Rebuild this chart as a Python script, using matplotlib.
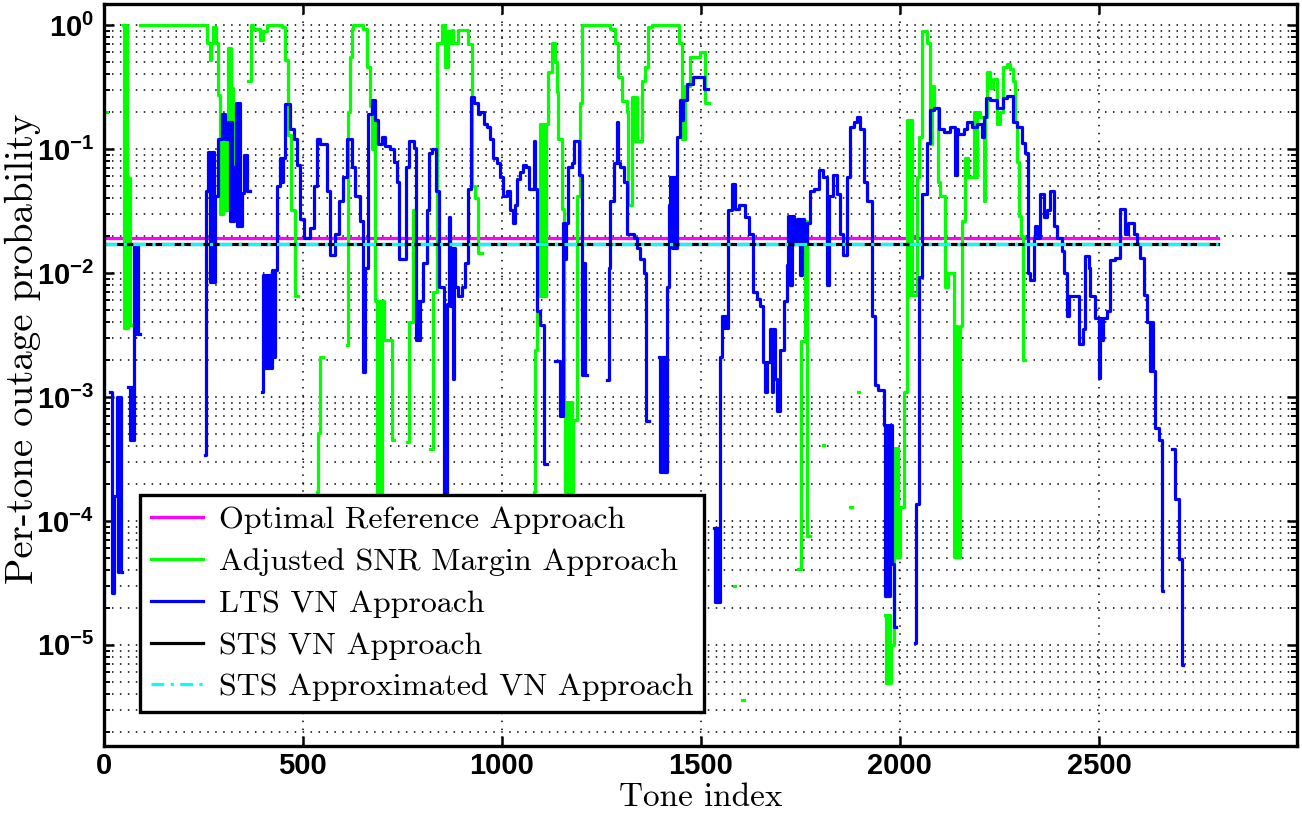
import numpy as np
import matplotlib.pyplot as plt
from matplotlib.ticker import LogLocator, NullLocator

plt.rcParams['mathtext.fontset'] = 'custom'
plt.rcParams['mathtext.rm'] = 'Liberation Sans:bold'
plt.rcParams['mathtext.bf'] = 'Liberation Sans:bold'
plt.rcParams['axes.unicode_minus'] = False

nan = np.nan

# flat per-tone outage levels of the reference schemes
ref_tones = [1, 2800]
opt_level = 0.0193
sts_level = 0.0171
sts_approx_level = 0.0171

# adjusted SNR margin approach (nan = no outage, gap in the curve)
adj_tone = [3, 9, 49, 52, 55, 58, 62, 66, 70,
            91, 259, 267, 270, 274, 281, 287, 291, 294, 297, 300, 305, 311, 314, 317,
            320, 325, 328, 331, 335,
            363, 369, 376, 393, 401, 409, 447, 456, 464, 470, 481, 489,
            535, 539, 543, 550,
            610, 614, 619, 623, 627, 652, 661, 669, 673, 677, 682, 686, 690, 694, 698,
            703, 723, 728,
            761, 767, 778, 782,
            820, 828, 836, 849, 857, 864, 870, 874, 878, 891, 916, 924, 933, 941, 950,
            1080, 1084, 1088, 1096, 1100, 1104, 1108, 1112, 1117, 1125, 1134, 1138, 1142,
            1150, 1155, 1159, 1163, 1167, 1171, 1175, 1180, 1188, 1197, 1201, 1272, 1285,
            1293, 1301, 1314, 1318, 1327, 1331, 1335, 1339, 1352, 1360, 1368, 1377, 1444,
            1452, 1460, 1473, 1498, 1511, 1520,
            1582, 1586, 1603, 1609,
            1745, 1752, 1761, 1767, 1775,
            1806, 1810, 1875, 1879, 1894, 1898,
            1963, 1966, 1970, 1974, 1978, 1984, 1988, 1992, 1996, 2001, 2011, 2018, 2022,
            2026, 2030, 2043, 2047, 2055, 2068, 2076, 2080, 2085, 2095, 2101, 2114, 2122,
            2135, 2139, 2143, 2150, 2156, 2164, 2172, 2185, 2189, 2193, 2202, 2210, 2214,
            2219, 2227, 2235, 2244, 2252, 2260, 2269, 2277, 2285, 2290, 2294, 2298, 2304,
            2309, 2315]
adj_prob = [0.2, nan, 1.0, 3.6e-3, 1.0, 3.6e-3, 5.8e-2, 3.8e-3, nan,
            1.0, 0.71, 0.52, 0.71, 0.97, 0.71, 0.27, 3.0e-2, 0.12, 3.0e-2, 0.12, 3.2e-2, 0.65, 3.2e-2, 0.65,
            0.31, 3.2e-2, 6.5e-2, 3.2e-2, nan,
            0.35, 1.0, 0.93, 0.75, 0.89, 1.0, 0.97, 0.52, 0.13, 3.2e-2, 6.5e-3, nan,
            1.7e-4, 5.1e-4, 2.1e-3, nan,
            2.6e-3, 0.2, 0.55, 0.93, 1.0, 0.93, 0.46, 0.22, 0.1, 0.22, 5.9e-3, 1.6e-4, 5.9e-3, 1.6e-4, 5.9e-3,
            2.9e-3, 4.5e-4, nan,
            4.3e-4, 4.0e-3, 3.2e-2, nan,
            3.8e-4, 7.0e-3, 0.72, 1.0, 0.46, 0.89, 0.72, 0.91, 0.72, 0.91, 0.70, 5.0e-2, 4.0e-2, 1.45e-2, nan,
            1.7e-4, 2.4e-3, 6.5e-3, 0.16, 6.5e-3, 0.16, 6.5e-3, 0.16, 0.42, 0.71, 0.5, 0.29, 0.12,
            3.3e-2, 9.1e-4, 1.7e-4, 9.1e-4, 1.7e-4, 9.1e-4, 1.7e-4, 6.5e-4, 4.2e-2, 0.235, 1.0, 0.93, 0.71,
            0.38, 0.245, 0.2, 3.5e-2, 0.26, 0.115, 0.26, 0.115, 0.35, 0.46, 0.97, 1.0, 0.71,
            0.12, 0.32, 0.55, 0.6, 0.235, nan,
            3.0e-5, nan, 3.6e-6, nan,
            4.1e-5, 2.8e-3, 2.6e-2, 7.6e-5, nan,
            4.1e-4, nan, 1.3e-4, nan, 1.1e-3, nan,
            1.75e-5, 4.9e-6, 1.75e-5, 4.9e-6, 1.0e-5, 3.9e-4, 5.1e-5, 3.9e-4, 5.1e-5, 1.3e-4, 1.1e-3, 0.17, 6.7e-3,
            0.17, 6.7e-3, 5.9e-2, 0.126, 0.89, 0.71, 0.11, 0.32, 0.215, 5.4e-2, 4.2e-2, 7.7e-3, 1.0e-2,
            5.1e-5, 3.7e-3, 5.1e-5, 3.7e-3, 2.6e-2, 8.5e-2, 5.9e-2, 0.2, 5.9e-2, 0.2, 0.18, 3.8e-2, 0.18,
            0.42, 0.31, 0.37, 0.16, 0.2, 0.46, 0.48, 0.44, 0.35, 0.165, 7.8e-2, 2.9e-2, 2.0e-2,
            2.0e-3, nan]

# long-term-stationary VN approach
lts_tone = [16, 21, 25, 33, 37, 40, 44, 47,
            62, 65, 68, 71, 76, 80, 84, 87, 90,
            254, 257, 263, 268, 272, 277, 280, 288, 296, 305, 313, 316, 320, 323, 326,
            331, 335, 339, 343, 347, 353, 359, 368,
            397, 399, 403, 407, 411, 415, 419, 423, 427, 431, 435, 443, 447, 451, 455,
            468, 477, 485, 493, 502, 518, 527, 535, 544, 560, 569, 581, 590, 602, 610,
            623, 631, 644, 650, 656, 665, 673, 682, 690, 698, 707, 720, 728, 737, 742,
            760, 767, 780, 785, 789, 793, 795, 803, 811, 818, 824, 835, 843, 855, 862,
            868, 871, 874, 877, 880, 883, 891, 899, 908, 916, 922, 930, 939, 945, 954,
            962, 971, 979, 987, 996, 1004, 1012, 1021, 1028, 1033, 1039, 1046, 1054, 1061,
            1067, 1080, 1084, 1088, 1096, 1105, 1113,
            1134, 1146, 1154, 1158, 1162, 1167, 1176, 1182, 1193, 1201, 1205, 1209, 1213,
            1264, 1268, 1272, 1281, 1289, 1293, 1297, 1306, 1314, 1331, 1339, 1347, 1356,
            1363, 1369,
            1394, 1397, 1400, 1404, 1407, 1410, 1414, 1419, 1423, 1427, 1431, 1435, 1440,
            1448, 1452, 1456, 1465, 1481, 1507, 1519,
            1533, 1536, 1540, 1544, 1547, 1553, 1557, 1561, 1566, 1569, 1578, 1586, 1595,
            1611, 1620, 1632, 1641, 1649, 1657, 1661, 1665, 1674, 1678, 1682, 1687, 1691,
            1699, 1708, 1716, 1720, 1724, 1728, 1733, 1741, 1750, 1754, 1758, 1766, 1775,
            1783, 1796, 1808, 1818, 1822, 1833, 1842, 1850, 1858, 1867, 1875, 1884, 1892,
            1900, 1909, 1917, 1930, 1938, 1946, 1959, 1963, 1967, 1971, 1975, 1980, 1986,
            1990,
            2039, 2041, 2047, 2055, 2068, 2076, 2085, 2097, 2110, 2127, 2139, 2143, 2147,
            2160, 2168, 2181, 2193, 2206, 2210, 2217, 2227, 2244, 2252, 2260, 2269, 2285,
            2294, 2306, 2315, 2323, 2327, 2336, 2340, 2345, 2352, 2361, 2369, 2378, 2386,
            2394, 2407, 2411, 2420, 2424, 2449, 2461, 2466, 2474, 2478, 2491, 2499, 2503,
            2507, 2511, 2520, 2528, 2541, 2553, 2566, 2574, 2587, 2595, 2604, 2612, 2620,
            2627, 2631, 2635, 2641, 2650, 2658, 2662,
            2683, 2692, 2700, 2708, 2712]
lts_prob = [1.1e-3, 2.6e-5, 1.6e-4, 1.0e-3, 3.9e-5, 1.0e-3, 3.9e-5, nan,
            1.2e-3, 4.5e-4, 1.2e-3, 4.5e-4, 1.7e-2, 3.2e-3, 1.7e-2, 3.2e-3, nan,
            3.4e-4, 4.6e-2, 9.4e-2, 8.4e-3, 9.4e-2, 8.4e-3, 4.2e-2, 0.12, 0.19, 0.12, 0.165, 2.6e-2, 0.165, 2.6e-2, 7.1e-2,
            0.235, 2.4e-2, 0.235, 2.4e-2, 4.4e-2, 8.9e-2, 4.6e-2, nan,
            1.1e-3, 9.6e-3, 1.7e-3, 9.6e-3, 1.7e-3, 9.6e-3, 1.7e-3, 1.05e-2, 2.1e-3, 1.05e-2, 5.0e-2, 8.5e-2, 5.4e-2, 8.5e-2, 0.23,
            0.144, 0.12, 7.4e-2, 2.7e-2, 1.9e-2, 2.3e-2, 5.0e-2, 0.12, 0.11, 4.6e-2, 1.4e-2, 2.05e-2, 3.8e-2, 5.9e-2, 0.12,
            7.1e-2, 4.2e-2, 2.6e-2, 1.6e-3, 1.1e-2, 0.19, 0.25, 0.17, 0.11, 0.126, 0.106, 0.10, 7.8e-2, 5.4e-2, 1.3e-2,
            7.1e-2, 0.116, 0.101, 2.9e-3, 5.9e-3, 2.9e-3, 5.9e-3, 1.2e-2, 3.2e-2, 9.25e-2, 9.9e-2, 4.6e-2, 7.7e-3, 5e-5, 5.6e-3,
            2.8e-2, 5.4e-3, 1.6e-2, 1.4e-3, 1.6e-2, 7.7e-3, 6.5e-3, 7.7e-3, 1.2e-2, 4.75e-2, 0.26, 0.235, 0.19, 0.2, 0.158,
            0.151, 0.121, 8.5e-2, 7.75e-2, 5.9e-2, 4.2e-2, 4.6e-2, 3.2e-2, 2.55e-2, 3.5e-2, 5.7e-2, 6.5e-2, 7.4e-2, 7.1e-2,
            4.75e-2, 0.116, 4.75e-2, 4.9e-3, 3.8e-3, 2.9e-4, nan,
            1.95e-3, 7.0e-4, 2.55e-2, 1.3e-2, 2.55e-2, 7.1e-2, 7.75e-2, 0.116, 6.2e-2, 1.5e-3, 1.2e-2, 1.5e-3, nan,
            1.36e-3, 1.1e-2, 3.8e-2, 7.75e-2, 0.165, 7.75e-2, 7.1e-2, 5.4e-2, 2.05e-2, 1.9e-2, 1.6e-2, 1.3e-2, 1.0e-2,
            6.4e-4, nan,
            2.1e-3, 2.5e-4, 2.1e-3, 2.5e-4, 2.1e-3, 2.5e-4, 7.7e-3, 3.5e-2, 5.9e-2, 1.6e-2, 5.9e-2, 1.6e-2, 0.126,
            0.246, 0.17, 0.246, 0.336, 0.383, 0.307, nan,
            8.7e-5, 2.2e-5, 8.7e-5, 2.2e-5, 2.1e-3, 4.5e-3, 3.6e-3, 4.5e-3, 3.6e-3, 3.2e-2, 5.2e-2, 3.3e-2, 3.5e-2,
            2.8e-2, 2.05e-2, 7.0e-3, 6.2e-3, 5.4e-3, 1.9e-3, 1.1e-3, 1.9e-3, 3.5e-3, 1.1e-3, 3.5e-3, 1.4e-3, 7.7e-4,
            2.4e-3, 5.9e-3, 1.15e-2, 2.9e-2, 8.0e-3, 2.9e-2, 1.7e-2, 2.7e-2, 9.6e-3, 2.7e-2, 1.7e-2, 2.55e-2, 4.6e-2,
            4.75e-2, 6.8e-2, 5.9e-2, 8.0e-3, 4.2e-2, 6.2e-2, 4.35e-2, 2.05e-2, 1.4e-2, 5.9e-2, 0.151, 0.165, 0.18,
            0.144, 5.4e-2, 3.8e-2, 4.5e-3, 1.25e-3, 1.14e-3, 5.9e-4, 2.5e-5, 5.9e-4, 2.5e-5, 5.9e-4, 4.5e-5, 1.4e-5,
            nan,
            1.03e-5, 1.36e-4, 9.2e-3, 4.35e-2, 0.111, 0.206, 0.215, 0.144, 0.138, 0.151, 6.2e-2, 0.144, 0.132,
            0.144, 0.165, 0.151, 0.158, 0.126, 0.18, 0.257, 0.246, 0.215, 0.215, 0.257, 0.269, 0.165,
            0.151, 0.111, 9.25e-2, 1.0e-2, 8.8e-3, 1.9e-2, 2.4e-2, 1.9e-2, 4.35e-2, 2.8e-2, 3.2e-2, 4.55e-2, 2.4e-2,
            1.9e-2, 1.5e-2, 1.0e-2, 4.5e-3, 6.5e-3, 2.65e-3, 3.5e-3, 1.37e-2, 1.1e-2, 6.5e-3, 4.3e-3, 1.43e-3, 4.3e-3,
            2.9e-3, 4.3e-3, 4.9e-3, 1.26e-2, 1.31e-2, 3.3e-2, 2.05e-2, 2.55e-2, 2.05e-2, 1.7e-2, 1.31e-2, 6.7e-3, 4.0e-3,
            1.63e-3, 4.0e-3, 1.63e-3, 5.6e-4, 4.5e-4, 2.7e-5, nan,
            3.8e-4, 1.5e-4, 4.9e-5, 6.9e-6, nan]

x_ticks = [0, 500, 1000, 1500, 2000, 2500]
y_exps = [-5, -4, -3, -2, -1, 0]

fig = plt.figure(figsize=(13.02, 8.16), dpi=100)
ax = fig.add_axes([0.0797, 0.0858, 0.9163, 0.9093])
ax.set_yscale('log')

lw = 2.3
ax.plot(ref_tones, [opt_level] * 2, color=(1, 0, 1), lw=lw,
        label='Optimal Reference Approach')
ax.step(adj_tone, adj_prob, where='post', color=(0, 1, 0), lw=lw,
        label='Adjusted SNR Margin Approach')
ax.step(lts_tone, lts_prob, where='post', color=(0, 0, 1), lw=lw,
        label='LTS VN Approach')
ax.plot(ref_tones, [sts_level] * 2, color='k', lw=lw,
        label='STS VN Approach')
ax.plot(ref_tones, [sts_approx_level] * 2, color=(0, 1, 1), lw=lw,
        dashes=[4, 2, 1, 2], label='STS Approximated VN Approach')

ax.set_xlim(0, 2997)
ax.set_ylim(1.53e-6, 1.476)

ax.set_xticks(x_ticks)
ax.set_xticklabels([str(t) for t in x_ticks], fontsize=21, fontweight='bold',
                   family='Liberation Sans')
ax.set_yticks([10.0 ** k for k in y_exps])
ax.set_yticklabels([r'$10^{%d}$' % k for k in y_exps], fontsize=21)
ax.yaxis.set_minor_locator(LogLocator(base=10, subs=np.arange(2, 10), numticks=20))
ax.yaxis.set_minor_formatter(plt.NullFormatter())
ax.xaxis.set_minor_locator(NullLocator())

ax.tick_params(which='both', direction='in', top=True, right=True)
ax.tick_params(which='major', length=7, width=1.8)
ax.tick_params(which='minor', length=4, width=1.4)
ax.tick_params(axis='y', pad=7)
ax.tick_params(axis='x', pad=4)
for sp in ax.spines.values():
    sp.set_linewidth(2.4)

ax.set_axisbelow(True)
ax.grid(True, which='major', axis='both', color='k', lw=1.1, linestyle=(0, (1, 4.2)))
ax.grid(True, which='minor', axis='y', color='k', lw=1.1, linestyle=(0, (1, 4.2)))

ax.set_xlabel('Tone index', family='cmr10', fontsize=24)
ax.set_ylabel('Per-tone outage probability', family='cmr10', fontsize=28)
ax.xaxis.set_label_coords(0.5, -0.05)
ax.yaxis.set_label_coords(-0.053, 0.536)

leg = ax.legend(loc='lower left', bbox_to_anchor=(0.0304, 0.0458), borderaxespad=0,
                prop={'family': 'cmr10', 'size': 23}, handlelength=1.65,
                handletextpad=0.5, labelspacing=0.42, borderpad=0.33,
                fancybox=False, framealpha=1, edgecolor='k')
leg.get_frame().set_linewidth(2.4)

fig.savefig('out.png', dpi=100)
